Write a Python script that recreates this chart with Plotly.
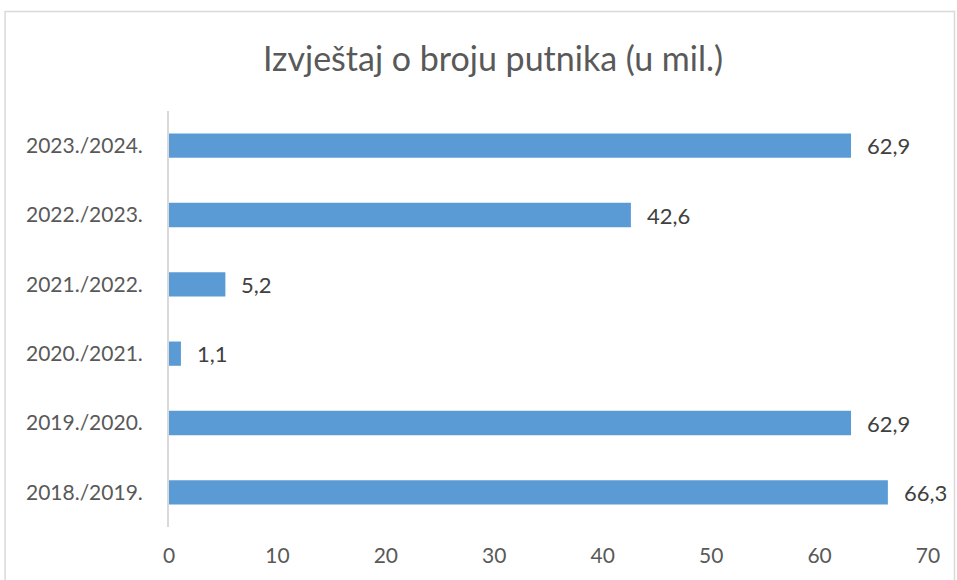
import plotly.graph_objects as go

categories = ["2018./2019.", "2019./2020.", "2020./2021.", "2021./2022.", "2022./2023.", "2023./2024."]
values = [66.3, 62.9, 1.1, 5.2, 42.6, 62.9]
x_ticks = [0, 10, 20, 30, 40, 50, 60, 70]
title_text = "Izvještaj o broju putnika (u mil.)"

W, H = 957, 580
L, R, T, B = 169, 28.5, 111.4, 53.4
pw, ph = W - L - R, H - T - B

FONT = "Lato"
fig = go.Figure()
fig.add_trace(go.Bar(
    y=categories, x=values, orientation="h",
    marker=dict(color="#5B9BD5", line=dict(width=0)),
    hoverinfo="skip",
))

for c, v in zip(categories, values):
    fig.add_annotation(
        x=v, y=c, xref="x", yref="y",
        text=f"{v:.1f}".replace(".", ","),
        showarrow=False, xanchor="left", yanchor="middle", xshift=14,
        font=dict(family=FONT, size=22, color="#404040"),
    )

fig.add_shape(
    type="rect", xref="paper", yref="paper",
    x0=(5 - L) / pw, x1=(955 - L) / pw,
    y0=(H - B - 585) / ph, y1=(H - B - 12) / ph,
    line=dict(color="#D9D9D9", width=1.5), fillcolor="rgba(0,0,0,0)", layer="below",
)

fig.update_layout(
    width=W, height=H,
    margin=dict(l=L, r=R, t=T, b=B, pad=0),
    paper_bgcolor="white", plot_bgcolor="white",
    bargap=0.65,
    showlegend=False,
    title=dict(text=title_text, x=493 / W, xanchor="center", xref="container",
               y=1 - 59 / H, yanchor="middle", yref="container",
               font=dict(family=FONT, size=34, color="#595959")),
    xaxis=dict(range=[0, 70], tickvals=x_ticks, showgrid=False, zeroline=False,
               showline=False, ticks="", ticklabelstandoff=14,
               tickfont=dict(family=FONT, size=21, color="#595959"), fixedrange=True),
    yaxis=dict(categoryorder="array", categoryarray=categories, showgrid=False,
               zeroline=False, showline=True, linecolor="#D9D9D9", linewidth=2,
               ticks="", ticklabelstandoff=20,
               tickfont=dict(family=FONT, size=21, color="#595959"), fixedrange=True),
)

fig.write_html("out.html", config={"displayModeBar": False},
               post_script="document.body.style.margin='0';")
